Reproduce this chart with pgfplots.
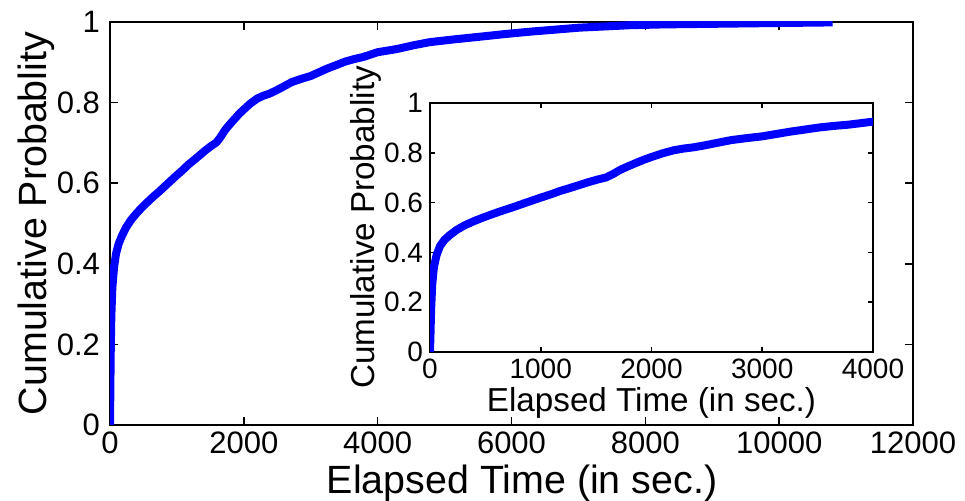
\documentclass[border=0pt]{standalone}
\usepackage{fontspec}
\setmainfont{Liberation Sans}
\usepackage{pgfplots}
\pgfplotsset{compat=1.18}
\usepackage{pgfplotstable}

\pgfplotstableread{
x p
0 0
5 0.08
10 0.17
20 0.27
35 0.34
60 0.39
90 0.425
130 0.45
180 0.47
240 0.49
310 0.508
400 0.526
480 0.54
560 0.553
650 0.567
740 0.580
830 0.594
1000 0.62
1090 0.633
1170 0.646
1260 0.658
1345 0.670
1430 0.682
1517 0.693
1590 0.701
1650 0.714
1720 0.732
1790 0.746
1860 0.759
1930 0.772
2000 0.783
2100 0.798
2200 0.810
2290 0.817
2380 0.822
2470 0.829
2550 0.836
2640 0.844
2720 0.851
2860 0.859
3000 0.866
3120 0.875
3240 0.884
3380 0.893
3520 0.902
3650 0.908
3780 0.913
3890 0.919
4000 0.925
4290 0.933
4530 0.942
4780 0.950
5150 0.957
5530 0.9635
5900 0.970
6280 0.976
6650 0.981
7020 0.986
7400 0.989
7770 0.992
8270 0.994
8770 0.995
9260 0.996
9760 0.997
10300 0.998
10800 0.999
}\cdf

\begin{document}
\begin{tikzpicture}
\useasboundingbox (-55pt,-38pt) rectangle (427.5pt,212.5pt);
\begin{axis}[
  at={(0pt,0pt)}, anchor=south west,
  scale only axis, width=401.5pt, height=201.5pt,
  xmin=0, xmax=12000, ymin=0, ymax=1,
  xtick={0,2000,4000,6000,8000,10000,12000},
  ytick={0,0.2,0.4,0.6,0.8,1},
  tick align=inside, xtick pos=both, ytick pos=both,
  major tick length=4pt,
  scaled x ticks=false,
  /pgf/number format/assume math mode=true,
  /pgf/number format/1000 sep={},
  axis line style={line width=0.8pt},
  tick style={line width=0.8pt, black},
  ticklabel style={font=\fontsize{15.5}{16}\selectfont},
  yticklabel style={xshift=-1.5pt},
  xlabel={Elapsed Time (in sec.)},
  ylabel={Cumulative Probablity},
  xlabel style={font=\fontsize{19.7}{20}\selectfont, at={(axis description cs:0.5,0)}, anchor=center, xshift=5.25pt, yshift=-29.25pt},
  ylabel style={font=\fontsize{19.7}{20}\selectfont, at={(axis description cs:0,0.5)}, anchor=center, yshift=36.75pt},
]
\addplot[blue, line width=4pt, line join=round] table[x=x,y=p] {\cdf};
\end{axis}
\begin{axis}[
  at={(160pt,36.5pt)}, anchor=south west,
  scale only axis, width=221.5pt, height=124.5pt,
  axis background/.style={fill=white},
  xmin=0, xmax=4000, ymin=0, ymax=1,
  xtick={0,1000,2000,3000,4000},
  ytick={0,0.2,0.4,0.6,0.8,1},
  tick align=inside, xtick pos=both, ytick pos=both,
  major tick length=2.5pt,
  scaled x ticks=false,
  /pgf/number format/assume math mode=true,
  /pgf/number format/1000 sep={},
  axis line style={line width=0.8pt},
  tick style={line width=0.8pt, black},
  ticklabel style={font=\fontsize{14}{15}\selectfont},
  xlabel={Elapsed Time (in sec.)},
  ylabel={Cumulative Probablity},
  xlabel style={font=\fontsize{16.6}{17}\selectfont, at={(axis description cs:0.5,0)}, anchor=center, yshift=-25.5pt},
  ylabel style={font=\fontsize{16.6}{17}\selectfont, at={(axis description cs:0,0.5)}, anchor=center, yshift=32.25pt},
]
\addplot[blue, line width=4pt, line join=round] table[x=x,y=p] {\cdf};
\end{axis}
\end{tikzpicture}
\end{document}
